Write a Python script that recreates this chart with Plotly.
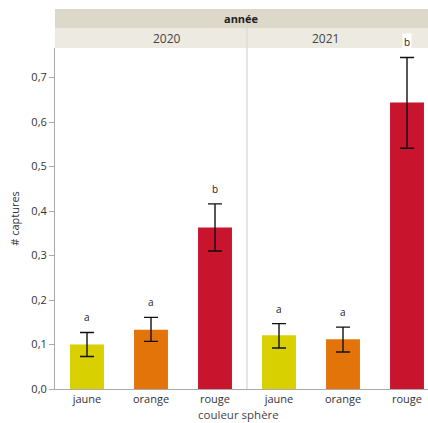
import plotly.graph_objects as go

categories = ["jaune", "orange", "rouge"]
years = ["2020", "2021"]
mean_2020 = [0.100, 0.133, 0.363]
upper_2020 = [0.127, 0.161, 0.416]
lower_2020 = [0.073, 0.107, 0.310]
mean_2021 = [0.121, 0.112, 0.644]
upper_2021 = [0.147, 0.139, 0.745]
lower_2021 = [0.092, 0.083, 0.541]
letters_2020 = ["a", "a", "b"]
letters_2021 = ["a", "a", "b"]
bar_colors = ["#D8D000", "#E3740A", "#C9142E"]
y_ticks = [0.0, 0.1, 0.2, 0.3, 0.4, 0.5, 0.6, 0.7]
y_ticktext = ["0,0", "0,1", "0,2", "0,3", "0,4", "0,5", "0,6", "0,7"]

FONT = "Open Sans, Noto Sans, sans-serif"
W, H = 428, 423
L, R, T, B = 55, 0, 48, 34
plot_w = W - L - R
plot_h = H - T - B
split = 192 / plot_w

fig = go.Figure()
series = [(mean_2020, upper_2020, lower_2020, letters_2020, "x", "y"),
          (mean_2021, upper_2021, lower_2021, letters_2021, "x2", "y")]
for mean, up, lo, letters, xa, ya in series:
    fig.add_trace(go.Bar(
        x=categories, y=mean, xaxis=xa, yaxis=ya,
        marker=dict(color=bar_colors, line=dict(width=0)),
        width=0.53,
        error_y=dict(type="data", symmetric=False,
                     array=[u - m for u, m in zip(up, mean)],
                     arrayminus=[m - l for m, l in zip(mean, lo)],
                     color="#111111", thickness=1.4, width=7),
        showlegend=False, hoverinfo="skip",
    ))
    for c, u, t in zip(categories, up, letters):
        fig.add_annotation(x=c, y=u, xref=xa, yref=ya, text=t, showarrow=False,
                           yanchor="middle", yshift=15,
                           font=dict(family=FONT, size=10, color="#222222"),
                           bgcolor="white", borderpad=1)

ymax = 0.1 * plot_h / 44.5
axis_common = dict(showgrid=False, zeroline=False, showline=True, linecolor="#AAAAAA",
                   linewidth=1, ticks="", automargin=False,
                   tickfont=dict(family=FONT, size=11, color="#333333"),
                   type="category")
fig.update_layout(
    width=W, height=H,
    margin=dict(l=L, r=R, t=T, b=B, autoexpand=False),
    paper_bgcolor="white", plot_bgcolor="white",
    xaxis=dict(domain=[0, split], range=[-0.5, 2.5], **axis_common),
    xaxis2=dict(domain=[split, 1], range=[-0.5, -0.5 + 181 / 64], anchor="y", **axis_common),
    yaxis=dict(range=[0, ymax], tickvals=y_ticks, ticktext=y_ticktext, showgrid=False,
               zeroline=False, showline=True, linecolor="#AAAAAA", linewidth=1,
               ticks="outside", ticklen=5, tickcolor="#AAAAAA", automargin=False,
               tickfont=dict(family=FONT, size=11, color="#333333"),
               title=dict(text="# captures", font=dict(family=FONT, size=11, color="#333333"),
                          standoff=9)),
    bargap=0.47,
)

# header bands
row = 20 / plot_h
fig.add_shape(type="rect", xref="paper", yref="paper", x0=0, x1=1, y0=1, y1=1 + row,
              fillcolor="#EDEBE1", line=dict(width=0), layer="below")
fig.add_shape(type="rect", xref="paper", yref="paper", x0=0, x1=1, y0=1 + row, y1=1 + 2 * row - 1 / plot_h,
              fillcolor="#DCD9CA", line=dict(width=0), layer="below")
fig.add_shape(type="line", xref="paper", yref="paper", x0=split, x1=split, y0=0, y1=1 + row,
              line=dict(color="#DDDDDD", width=1.5))
fig.add_annotation(xref="paper", yref="paper", x=0.5, y=1 + 1.5 * row, text="<b>année</b>",
                   showarrow=False, yanchor="middle",
                   font=dict(family=FONT, size=11, color="#222222"))
fig.add_annotation(xref="paper", yref="paper", x=split / 2, y=1 + 0.5 * row, text=years[0],
                   showarrow=False, yanchor="middle",
                   font=dict(family=FONT, size=12, color="#444444"))
fig.add_annotation(xref="paper", yref="paper", x=split + (1 - split) * 0.52, y=1 + 0.5 * row,
                   text=years[1], showarrow=False, yanchor="middle",
                   font=dict(family=FONT, size=12, color="#444444"))
fig.add_annotation(xref="paper", yref="paper", x=(238 - L) / plot_w, y=0, yshift=-25,
                   text="couleur sphère", showarrow=False, yanchor="middle",
                   font=dict(family=FONT, size=11.5, color="#444444"))

fig.write_html("out.html", config={"displayModeBar": False},
               post_script="document.body.style.margin='0';document.body.style.overflow='hidden';")
